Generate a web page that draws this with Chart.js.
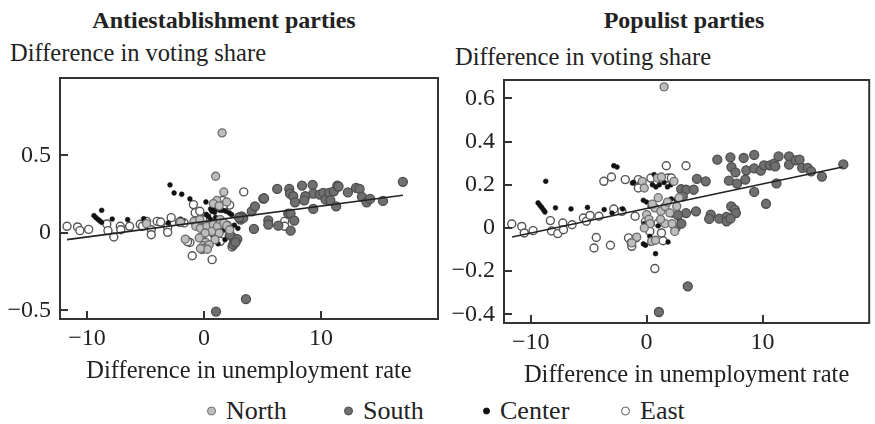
<!DOCTYPE html>
<html>
<head>
<meta charset="utf-8">
<script src="https://cdn.jsdelivr.net/npm/chart.js@4/dist/chart.umd.min.js"></script>
<style>
  html, body { margin: 0; padding: 0; background: #ffffff; }
  body { width: 875px; height: 424px; position: relative; overflow: hidden; font-family: "Liberation Serif", serif; color: #222; }
  .t { position: absolute; white-space: nowrap; line-height: 1; }
  .title { font-weight: bold; font-size: 24px; transform: translate(-50%, -50%); }
  .ylab { font-size: 24.5px; transform: translateY(-50%); }
  #cl { position: absolute; left: 0; top: 0; }
  #cr { position: absolute; left: 440px; top: 0; }
  .legt { position: absolute; top: 411px; transform: translateY(-50%); font-size: 26px; white-space: nowrap; line-height: 1; }
  .mk { position: absolute; top: 411px; transform: translateY(-50%); width: 9px; height: 9px; border-radius: 50%; box-sizing: border-box; }
</style>
</head>
<body>
<div class="t title" style="left:224px; top:20px;">Antiestablishment parties</div>
<div class="t title" style="left:684px; top:20px;">Populist parties</div>
<div class="t ylab" style="left:10px; top:53px;">Difference in voting share</div>
<div class="t ylab" style="left:455px; top:57px;">Difference in voting share</div>
<canvas id="cl" width="445" height="390"></canvas>
<canvas id="cr" width="435" height="390"></canvas>
<span class="mk" style="left:207px; background:#bdbdbd; border:1.4px solid #6e6e6e;"></span>
<div class="legt" style="left:226px;">North</div>
<span class="mk" style="left:344px; background:#6f6f6f; border:1.4px solid #4d4d4d;"></span>
<div class="legt" style="left:363px;">South</div>
<span class="mk" style="left:483px; width:7px; height:7px; background:#111; border:1px solid #111;"></span>
<div class="legt" style="left:500px;">Center</div>
<span class="mk" style="left:621px; background:#fff; border:1.4px solid #5a5a5a;"></span>
<div class="legt" style="left:640px;">East</div>
<script>
// ---------- tick labels ----------
const xTicks = [-10, 0, 10];
const antiYTicks = [-0.5, 0, 0.5];
const popYTicks = [-0.4, -0.2, 0, 0.2, 0.4, 0.6];

// ---------- Antiestablishment parties ----------
const antiEast = [[-11.7,0.043],[-10.8,0.039],[-10.6,0.015],[-9.85,0.023],[-8.3,0.058],[-8.2,0.015],[-7.7,-0.026],[-7.15,0.043],[-7.1,0.021],[-6.35,0.043],[-5.45,0.056],[-5.25,0.043],[-4.9,0.075],[-4.5,0.021],[-4.5,-0.011],[-4.0,0.075],[-3.7,0.071],[-3.1,0.036],[-3.1,0.004],[-2.8,0.099],[-2.1,0.069],[-1.55,-0.043],[-1.2,-0.061],[-1.0,-0.147],[-0.9,0.183],[-0.75,0.13],[-1.7,0.065],[-0.3,-0.03],[-1.4,-0.056],[0.7,-0.172],[0.2,-0.06],[0.5,-0.032],[1.4,-0.054],[3.4,0.265],[1.6,0.21],[2.2,0.18],[-0.35,0.14],[1.1,0.04],[2.0,0.05],[0.9,0.06],[1.7,0.18],[6.9,0.075],[6.9,0.043],[-0.1,0.085],[2.4,-0.09]];
const antiNorth = [[1.55,0.646],[1.0,0.366],[1.7,0.265],[1.1,0.21],[1.95,0.2],[0.8,0.19],[1.3,0.175],[-0.85,0.075],[-0.35,0.086],[-0.7,0.043],[-0.3,0.03],[0.25,0.043],[0.8,0.054],[1.15,0.043],[1.4,0.086],[1.7,0.065],[1.95,0.047],[2.2,0.021],[1.3,0.0],[0.65,0.01],[0.1,0.0],[-0.4,-0.032],[-1.6,-0.04],[0.95,-0.043],[0.15,-0.06],[-0.05,-0.082],[0.25,-0.09],[-0.15,-0.108],[0.45,-0.076],[0.0,-0.1],[0.3,-0.105],[-0.3,-0.1],[-4.9,0.06],[-2.0,0.07]];
const antiCenter = [[-9.4,0.112],[-9.23,0.099],[-9.06,0.088],[-8.9,0.078],[-8.75,0.069],[-8.74,0.146],[-7.84,0.09],[-6.52,0.086],[-5.15,0.092],[-3.05,0.065],[-2.9,0.31],[-2.55,0.258],[-1.9,0.25],[-1.2,0.22],[-2.0,0.09],[-1.8,0.08],[0.57,0.155],[0.8,0.16],[0.68,0.14],[0.91,0.133],[1.08,0.155],[1.37,0.146],[1.6,0.146],[1.88,0.14],[2.17,0.129],[2.37,0.118],[0.4,0.107],[0.57,0.086],[0.17,0.2],[0.68,-0.011],[1.65,0.017],[1.8,-0.043],[0.4,0.021],[2.6,0.05],[2.9,0.03],[0.2,0.12],[1.0,0.1],[2.0,-0.02],[-0.1,0.02],[1.2,-0.07]];
const antiSouth = [[3.59,-0.427],[1.03,-0.507],[2.5,-0.032],[2.85,-0.039],[2.5,-0.076],[2.22,-0.011],[3.22,0.107],[3.14,0.086],[3.36,0.097],[4.27,0.026],[4.08,0.14],[4.36,0.172],[5.07,0.222],[5.5,0.081],[5.5,0.054],[6.26,0.284],[7.29,0.284],[7.35,0.254],[7.63,0.237],[7.78,0.198],[8.38,0.306],[9.29,0.31],[9.34,0.254],[8.66,0.237],[8.57,0.211],[9.91,0.248],[10.2,0.259],[10.4,0.215],[10.7,0.259],[10.8,0.211],[11.1,0.269],[11.4,0.306],[11.5,0.3],[11.3,0.172],[12.3,0.262],[13.0,0.291],[13.3,0.284],[13.5,0.233],[13.9,0.198],[14.2,0.22],[15.3,0.207],[17.0,0.33],[9.34,0.155],[7.2,0.125],[7.4,0.125],[6.35,0.047],[7.72,0.08],[7.41,0.015],[3.0,0.1],[2.7,-0.06],[5.14,0.224]];
const antiFitX = [-11.7, 17.0];
const antiFitY = [-0.043, 0.243];

// ---------- Populist parties ----------
const popEast = [[-11.63,0.0185],[-10.77,0.007],[-10.55,-0.023],[-9.79,-0.0125],[-8.3,0.034],[-8.2,-0.014],[-7.66,-0.026],[-7.23,0.023],[-7.17,-0.008],[-6.43,0.015],[-5.45,0.046],[-5.19,0.031],[-4.88,0.058],[-4.34,-0.044],[-4.54,-0.093],[-4.11,0.054],[-3.69,0.216],[-3.03,0.236],[-3.12,-0.08],[-2.83,0.088],[-1.84,0.224],[-1.56,-0.046],[-1.33,-0.069],[-1.28,-0.085],[-0.99,0.054],[-0.9,-0.046],[-0.77,0.208],[-0.71,0.224],[-0.48,0.2],[-0.71,0.185],[1.7,0.288],[3.4,0.288],[0.71,-0.188],[1.42,-0.059],[-2.13,0.077],[1.28,-0.023],[0.28,-0.016],[1.85,0.231],[2.13,0.231],[0.37,0.231],[1.0,0.023],[-0.1,0.03]];
const popNorth = [[1.51,0.653],[-0.37,0.216],[-0.2,0.185],[0.94,0.231],[1.28,0.236],[2.36,0.216],[0.0,0.062],[0.71,0.093],[1.23,0.077],[1.6,0.1],[2.0,0.07],[1.8,0.12],[0.2,0.04],[0.3,0.02],[1.6,0.02],[2.2,0.02],[2.42,-0.016],[-0.85,-0.042],[-1.28,-0.069],[0.43,-0.062],[0.77,-0.057],[1.2,0.04],[2.6,0.1],[0.5,0.11],[1.0,0.14],[-0.2,0.0],[2.8,0.14]];
const popCenter = [[-8.7,0.216],[-9.36,0.116],[-9.2,0.105],[-9.05,0.095],[-8.9,0.084],[-8.77,0.074],[-7.86,0.093],[-6.52,0.088],[-5.1,0.095],[-3.66,0.085],[-2.83,0.288],[-2.55,0.282],[-2.98,0.069],[-2.07,0.088],[-1.22,0.208],[-1.13,0.211],[0.65,0.247],[0.5,0.2],[0.8,0.19],[1.1,0.2],[1.5,0.21],[1.8,0.19],[2.1,0.2],[-0.28,0.128],[0.0,0.12],[0.3,0.1],[0.6,0.11],[2.13,0.134],[2.55,0.131],[0.28,-0.039],[-0.28,-0.074],[-0.1,-0.08],[0.3,-0.07],[1.85,-0.065],[0.77,-0.119],[2.8,0.04],[2.2,0.06],[1.0,0.01],[-0.2,0.02]];
const popSouth = [[3.55,-0.27],[1.06,-0.389],[2.98,0.18],[3.4,0.177],[4.06,0.177],[4.34,0.227],[5.1,0.216],[3.12,0.146],[3.4,0.069],[4.26,0.077],[5.53,0.062],[5.4,0.042],[6.1,0.316],[7.23,0.327],[7.32,0.282],[7.66,0.257],[7.1,0.219],[7.8,0.205],[8.37,0.324],[8.6,0.267],[8.51,0.224],[9.28,0.338],[9.28,0.276],[9.85,0.265],[10.13,0.29],[10.64,0.29],[10.98,0.298],[11.1,0.285],[11.38,0.331],[12.29,0.331],[12.29,0.293],[12.85,0.313],[13.19,0.316],[13.42,0.278],[13.9,0.278],[14.19,0.262],[15.12,0.238],[16.97,0.294],[9.28,0.167],[11.2,0.206],[10.3,0.112],[7.3,0.1],[7.6,0.085],[7.7,0.069],[6.27,0.043],[6.9,0.051],[6.9,0.031],[7.23,0.043],[2.5,0.0],[3.0,0.02],[2.7,0.06]];
const popFitX = [-11.6, 16.9];
const popFitY = [-0.042, 0.282];

// ---------- styles ----------
const FONT = 'Liberation Serif';
const styles = {
  North:  { backgroundColor: '#bdbdbd', borderColor: '#6e6e6e', pointRadius: 4,   borderWidth: 1.3 },
  South:  { backgroundColor: '#6f6f6f', borderColor: '#4d4d4d', pointRadius: 4.5, borderWidth: 1.3 },
  Center: { backgroundColor: '#111111', borderColor: '#111111', pointRadius: 2.4, borderWidth: 0.6 },
  East:   { backgroundColor: '#ffffff', borderColor: '#555555', pointRadius: 4,   borderWidth: 1.4 }
};
const toPts = arr => arr.map(p => ({ x: p[0], y: p[1] }));
const fmt = v => String(v).replace('-', '\u2212');

const frame = {
  id: 'frame',
  afterDatasetsDraw(chart) {
    const { ctx, chartArea: a, scales } = chart;
    ctx.save();
    ctx.strokeStyle = '#333';
    ctx.lineWidth = 2;
    ctx.strokeRect(a.left, a.top, a.right - a.left, a.bottom - a.top);
    const L = 8;
    ctx.beginPath();
    scales.x.ticks.forEach(t => {
      const px = Math.round(scales.x.getPixelForValue(t.value));
      ctx.moveTo(px, a.bottom); ctx.lineTo(px, a.bottom - L);
    });
    scales.y.ticks.forEach(t => {
      const py = Math.round(scales.y.getPixelForValue(t.value));
      ctx.moveTo(a.left, py); ctx.lineTo(a.left + L, py);
    });
    ctx.stroke();
    ctx.restore();
  }
};

function makeChart(id, sets, fitX, fitY, yTicks, xr, yr, pad, yW, xH, titlePadB) {
  const datasets = [
    Object.assign({ label: 'North',  data: toPts(sets.North),  order: 1 }, styles.North),
    Object.assign({ label: 'South',  data: toPts(sets.South),  order: 1 }, styles.South),
    Object.assign({ label: 'Center', data: toPts(sets.Center), order: 1 }, styles.Center),
    Object.assign({ label: 'East',   data: toPts(sets.East),   order: 1 }, styles.East),
    { type: 'line', label: 'fit', data: fitX.map((x, i) => ({ x: x, y: fitY[i] })),
      borderColor: '#222', borderWidth: 1.6, pointRadius: 0, fill: false, order: 0 }
  ];
  return new Chart(document.getElementById(id), {
    type: 'scatter',
    data: { datasets },
    options: {
      responsive: false, animation: false,
      layout: { padding: pad },
      plugins: { legend: { display: false }, tooltip: { enabled: false } },
      scales: {
        x: {
          type: 'linear', min: xr[0], max: xr[1],
          grid: { display: false, drawTicks: false }, border: { display: false },
          afterBuildTicks: s => { s.ticks = xTicks.map(v => ({ value: v })); },
          afterFit: s => { s.height = xH; },
          ticks: { font: { family: FONT, size: 24 }, color: '#222', padding: 5, callback: v => fmt(v), maxRotation: 0 },
          title: { display: true, text: 'Difference in unemployment rate', font: { family: FONT, size: 24.5 }, color: '#222', padding: { top: 0, bottom: titlePadB } }
        },
        y: {
          type: 'linear', min: yr[0], max: yr[1],
          grid: { display: false, drawTicks: false }, border: { display: false },
          afterBuildTicks: s => { s.ticks = yTicks.map(v => ({ value: v })); },
          afterFit: s => { s.width = yW; },
          ticks: { font: { family: FONT, size: 24 }, color: '#222', padding: 9, callback: v => fmt(v) }
        }
      }
    },
    plugins: [frame]
  });
}

makeChart('cl', { North: antiNorth, South: antiSouth, Center: antiCenter, East: antiEast },
  antiFitX, antiFitY, antiYTicks, [-12.3, 20.0], [-0.555, 1.0],
  { top: 78, right: 7, left: 0, bottom: 0 }, 60, 71, 4);
makeChart('cr', { North: popNorth, South: popSouth, Center: popCenter, East: popEast },
  popFitX, popFitY, popYTicks, [-12.3, 19.2], [-0.44, 0.685],
  { top: 80, right: 2, left: 0, bottom: 0 }, 64, 67, 0);
</script>
</body>
</html>
